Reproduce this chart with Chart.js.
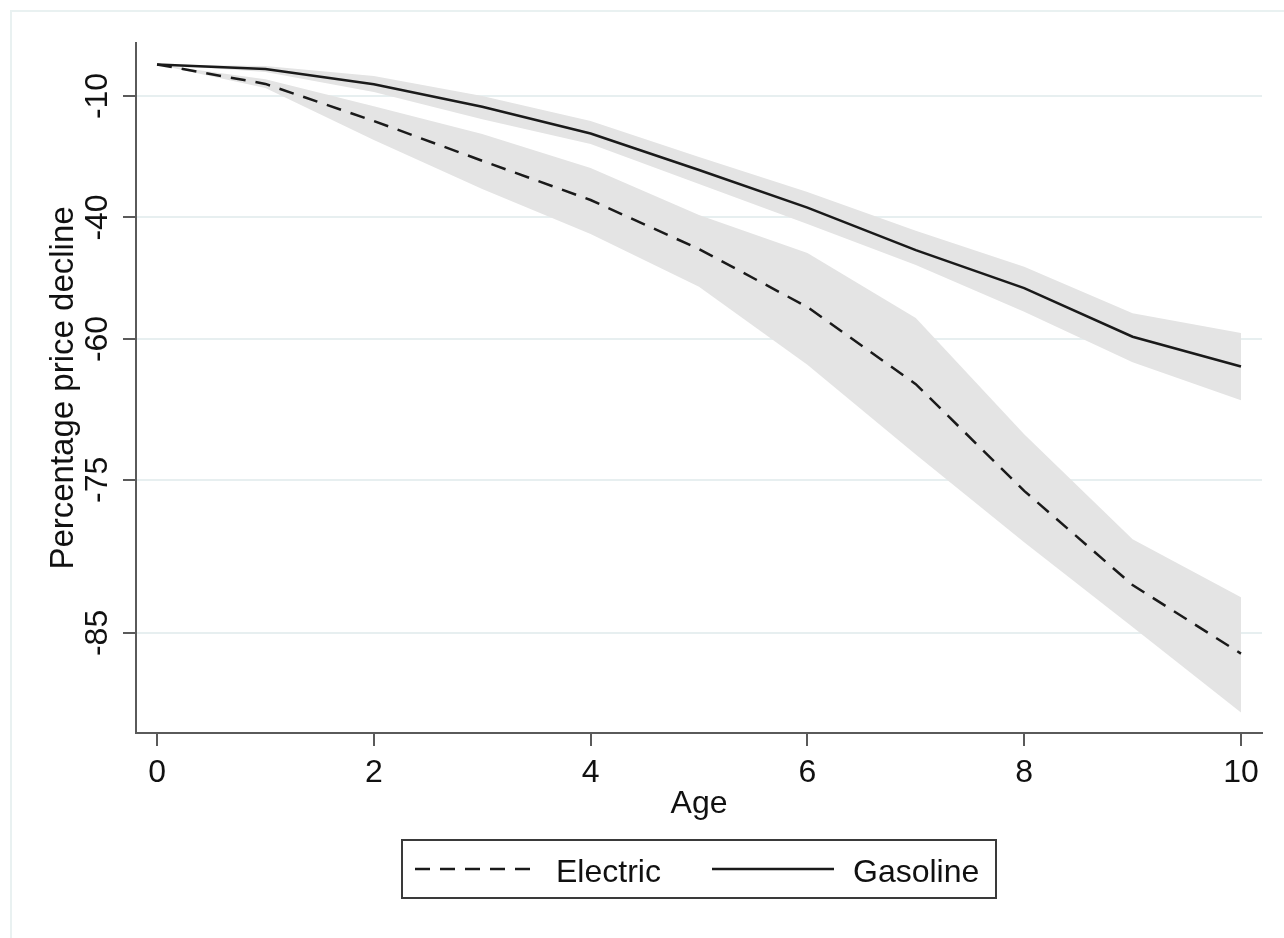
<!DOCTYPE html>
<html>
<head>
<meta charset="utf-8">
<script src="https://cdn.jsdelivr.net/npm/chart.js@4.4.1/dist/chart.umd.min.js"></script>
<style>
  html, body { margin: 0; padding: 0; background: #fff; }
  canvas { display: block; }
</style>
</head>
<body>
<canvas id="chart" width="1284" height="938"></canvas>
<script>
// percentage price decline by vehicle age
const ages = [0, 1, 2, 3, 4, 5, 6, 7, 8, 9, 10];

const electricMean = [0, -6.3, -17.2, -27.5, -36.4, -46.0, -55.5, -65.6, -75.9, -82.4, -86.0];
const electricHi   = [0, -4.8, -13.0, -20.7, -29.2, -39.5, -46.7, -57.1, -70.9, -79.5, -83.1];
const electricLo   = [0, -7.6, -22.3, -34.0, -43.2, -52.4, -63.3, -72.8, -79.7, -84.7, -88.5];

const gasMean = [0, -1.5, -6.4, -13.2, -20.6, -29.7, -38.0, -46.2, -52.6, -59.7, -63.5];
const gasHi   = [0, -0.5, -3.8, -10.0, -17.2, -26.6, -34.7, -42.6, -49.1, -56.4, -59.2];
const gasLo   = [0, -2.5, -8.8, -16.7, -23.3, -32.9, -41.3, -48.8, -56.2, -63.0, -67.4];

const xTicks = [0, 2, 4, 6, 8, 10];
const yTicks = [-10, -40, -60, -75, -85];

// the y axis is on a log price scale, labelled in percent
const toLog = p => Math.log(1 + p / 100);
const pts = arr => arr.map((p, i) => ({ x: ages[i], y: toLog(p) }));

const FONT = '"Liberation Sans", Arial, sans-serif';
const BAND = '#e4e4e4';
const INK = '#1a1a1a';
const AXIS = '#5a5a5a';
const GRID = '#e7eff0';

const framePlugin = {
  id: 'frame',
  beforeDraw(chart) {
    const ctx = chart.ctx;
    ctx.save();
    ctx.fillStyle = '#fff';
    ctx.fillRect(0, 0, chart.width, chart.height);
    ctx.strokeStyle = '#e9f1f1';
    ctx.lineWidth = 2;
    ctx.strokeRect(11, 11, chart.width + 20, chart.height + 20);
    ctx.restore();
  }
};

// boxed legend under the axis title
const boxLegend = {
  id: 'boxLegend',
  afterDraw(chart) {
    const ctx = chart.ctx;
    const items = chart.data.datasets.filter(d => d.inLegend);
    const box = { x: 402, y: 840, w: 594, h: 58 };
    const cy = box.y + box.h / 2;
    ctx.save();
    ctx.strokeStyle = '#3a3a3a';
    ctx.lineWidth = 2;
    ctx.strokeRect(box.x, box.y, box.w, box.h);
    const starts = [415, 712];
    const textX = [556, 853];
    items.forEach((d, i) => {
      ctx.beginPath();
      ctx.setLineDash(d.borderDash || []);
      ctx.strokeStyle = d.borderColor;
      ctx.lineWidth = d.borderWidth;
      ctx.moveTo(starts[i], cy);
      ctx.lineTo(starts[i] + 122, cy);
      ctx.stroke();
      ctx.setLineDash([]);
      ctx.fillStyle = '#111';
      ctx.font = '32px ' + FONT;
      ctx.textBaseline = 'alphabetic';
      ctx.fillText(d.label, textX[i], cy + 13);
    });
    ctx.restore();
  }
};

const bandStyle = {
  borderWidth: 0,
  pointRadius: 0,
  backgroundColor: BAND,
  borderColor: 'rgba(0,0,0,0)',
  tension: 0,
  order: 2
};

new Chart(document.getElementById('chart'), {
  type: 'line',
  data: {
    datasets: [
      { ...bandStyle, label: 'Gasoline low', data: pts(gasLo), fill: false },
      { ...bandStyle, label: 'Gasoline high', data: pts(gasHi), fill: '-1' },
      { ...bandStyle, label: 'Electric low', data: pts(electricLo), fill: false },
      { ...bandStyle, label: 'Electric high', data: pts(electricHi), fill: '-1' },
      {
        label: 'Electric', inLegend: true, data: pts(electricMean),
        borderColor: INK, borderWidth: 2.5, borderDash: [15, 10],
        pointRadius: 0, fill: false, tension: 0, order: 1
      },
      {
        label: 'Gasoline', inLegend: true, data: pts(gasMean),
        borderColor: INK, borderWidth: 2.5,
        pointRadius: 0, fill: false, tension: 0, order: 1
      }
    ]
  },
  options: {
    responsive: false,
    animation: false,
    layout: { padding: { left: 0, right: 22, top: 43, bottom: 95 } },
    plugins: {
      legend: { display: false },
      tooltip: { enabled: false }
    },
    scales: {
      x: {
        type: 'linear',
        min: -0.194,
        max: 10.194,
        afterBuildTicks: s => { s.ticks = xTicks.map(v => ({ value: v })); },
        afterFit: s => { s.height = 110; },
        ticks: {
          color: '#111',
          font: { family: FONT, size: 32 },
          padding: 8,
          maxRotation: 0,
          autoSkip: false
        },
        grid: {
          drawOnChartArea: false,
          tickColor: AXIS,
          tickLength: 13,
          lineWidth: 2
        },
        border: { color: AXIS, width: 2 },
        title: {
          display: true,
          text: 'Age',
          color: '#111',
          font: { family: FONT, size: 32 },
          padding: { top: 0, bottom: 20 }
        }
      },
      y: {
        type: 'linear',
        min: -2.231,
        max: 0.0714,
        afterBuildTicks: s => { s.ticks = yTicks.map(p => ({ value: toLog(p) })); },
        afterFit: s => { s.width = 136; },
        ticks: {
          color: '#111',
          font: { family: FONT, size: 32 },
          minRotation: 90,
          maxRotation: 90,
          crossAlign: 'center',
          padding: 2,
          autoSkip: false,
          callback: (v, i) => String(yTicks[i])
        },
        grid: {
          color: GRID,
          lineWidth: 2,
          tickColor: AXIS,
          tickLength: 13
        },
        border: { color: AXIS, width: 2 },
        title: {
          display: true,
          text: 'Percentage price decline',
          color: '#111',
          font: { family: FONT, size: 33 },
          padding: { top: 44, bottom: 0 }
        }
      }
    }
  },
  plugins: [framePlugin, boxLegend]
});
</script>
</body>
</html>
